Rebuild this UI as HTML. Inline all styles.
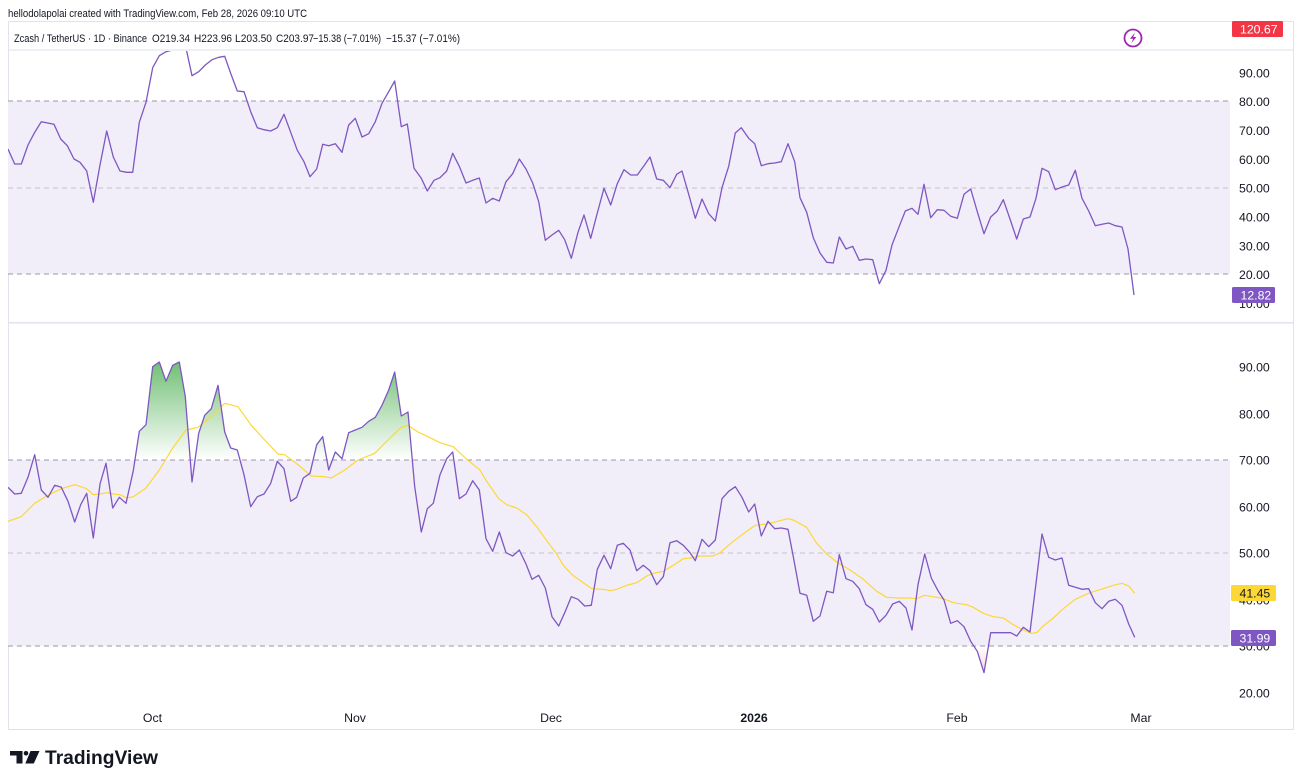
<!DOCTYPE html>
<html><head><meta charset="utf-8"><style>
html,body{margin:0;padding:0;background:#fff;width:1301px;height:784px;overflow:hidden}
svg{display:block}
text{font-family:"Liberation Sans",Arial,sans-serif}
</style></head><body>
<svg width="1301" height="784" viewBox="0 0 1301 784" xmlns="http://www.w3.org/2000/svg">
<defs>
<clipPath id="cTop"><rect x="8" y="51" width="1222" height="271"/></clipPath>
<clipPath id="cBot"><rect x="8" y="324" width="1222" height="381"/></clipPath>
<clipPath id="cAbove70"><rect x="8" y="324" width="1222" height="136"/></clipPath>
<clipPath id="cBelow30"><rect x="8" y="646" width="1222" height="59"/></clipPath>
<linearGradient id="gGreen" gradientUnits="userSpaceOnUse" x1="0" y1="355" x2="0" y2="460">
<stop offset="0" stop-color="#4caf50" stop-opacity="0.85"/>
<stop offset="1" stop-color="#4caf50" stop-opacity="0"/>
</linearGradient>
<linearGradient id="gRed" gradientUnits="userSpaceOnUse" x1="0" y1="646" x2="0" y2="690">
<stop offset="0" stop-color="#f23645" stop-opacity="0"/>
<stop offset="1" stop-color="#f23645" stop-opacity="0.35"/>
</linearGradient>
</defs>

<!-- top caption -->
<text x="8" y="17" font-size="11.2" fill="#131722" textLength="299" lengthAdjust="spacingAndGlyphs">hellodolapolai created with TradingView.com, Feb 28, 2026 09:10 UTC</text>

<!-- frame -->
<rect x="8.5" y="21.5" width="1285" height="708" fill="#fff" stroke="#e0e3eb" stroke-width="1"/>
<rect x="9" y="49" width="1284" height="2" fill="#eef0f5"/>
<rect x="9" y="322" width="1284" height="1.5" fill="#e0e3eb"/>

<!-- legend -->
<g font-size="10.8" fill="#131722">
<text x="14" y="42" textLength="133" lengthAdjust="spacingAndGlyphs">Zcash / TetherUS · 1D · Binance</text>
<text x="152" y="42" textLength="38" lengthAdjust="spacingAndGlyphs">O219.34</text>
<text x="194" y="42" textLength="38" lengthAdjust="spacingAndGlyphs">H223.96</text>
<text x="235" y="42" textLength="37" lengthAdjust="spacingAndGlyphs">L203.50</text>
<text x="276" y="42" textLength="38" lengthAdjust="spacingAndGlyphs">C203.97</text>
<text x="313" y="42" textLength="68" lengthAdjust="spacingAndGlyphs">−15.38 (−7.01%)</text>
<text x="386" y="42" textLength="74" lengthAdjust="spacingAndGlyphs">−15.37 (−7.01%)</text>
</g>

<!-- lightning icon -->
<circle cx="1133" cy="38" r="8.5" fill="none" stroke="#9c27b0" stroke-width="1.8"/>
<path d="M1135 32.5 L1130 38.8 L1133.2 38.8 L1131.2 43.5 L1136.3 37 L1133.2 37 Z" fill="#9c27b0"/>

<!-- TOP PANE -->
<rect x="8" y="101" width="1222" height="173" fill="#f1edf9"/>
<line x1="8" y1="101" x2="1230" y2="101" stroke="#9a97a5" stroke-width="1" stroke-dasharray="5 4"/>
<line x1="8" y1="274" x2="1230" y2="274" stroke="#9a97a5" stroke-width="1" stroke-dasharray="5 4"/>
<line x1="8" y1="188" x2="1230" y2="188" stroke="#c5c2cd" stroke-width="1" stroke-dasharray="5 4"/>
<g clip-path="url(#cTop)">
<polyline fill="none" stroke="#7e57c2" stroke-width="1.3" stroke-linejoin="round" points="8,149 14.7,164 21.3,164 28,145 34.7,132.3 41.3,121.7 54,124.3 60.7,139 67.3,145.7 74,159 80,162.3 86.7,171 93.3,202.3 100,165 106.7,131 113.3,157 120,171 126.7,172.3 132.7,172.3 139.3,122.3 146,102.3 152.7,67.7 159.3,55.7 166,51.7 172.7,50 179,48 186,48 192,75.7 198.7,71.7 205.3,65 212,59.7 218.7,57.3 224.7,56.3 231.3,75 237.3,91 244,91.7 250.7,111.7 257.3,127.7 264,129.7 270.7,131 277.3,127.7 284,114.3 290.7,132.3 297.3,150.3 304,161.7 310,176.7 316.7,169 322.7,144.3 328.7,145.7 335.3,143.7 342,152.3 348.7,125 355.3,118.3 362,137 368.7,133.7 375.3,121.7 382,103.3 388.7,91.7 394.7,81 401.3,126.7 407.3,124 414,168.3 421.3,178.3 427.3,191 434,180.3 440,177.7 446.7,171 452.7,153.3 459.3,166.3 466,183 472.7,180.3 479.3,178 486,203 492.7,198.3 499.3,201 506,181.7 512.7,173.7 519.3,159 526,169 532.7,183 538.7,201.7 545.3,240.3 552,235 558.7,230.3 564.7,239.7 571.3,258.3 578,232.3 584,215 590.7,238.3 597.3,213 604,188.3 610.7,205 617.3,183.7 624,169.7 630.7,175 637.3,175 644,165.7 650,157 656.7,179 663.3,180.3 670,187.7 676.7,174.3 682,171 688.7,194.3 695.3,218.3 702,199 708.7,213.7 715.3,221 722,187.7 728.7,166.3 735.3,133 741.3,127.7 748.7,138.3 754.7,143.7 761.3,165.7 768,163.7 774.7,163 781.3,161.7 788,143.7 794.7,161.7 800,197.7 806.7,212.3 813.3,237.7 820,253 826.7,262.3 833.3,263 839.3,237 846,249 852.7,246.3 859.3,260.3 866,259 872.7,259.7 879.3,283.7 886,270.3 892,245 898.7,227.7 905.3,211 912,208.3 918,214.3 924,184.3 930.7,217.7 937.3,209.7 944,210.3 950.7,216.3 957.3,218.3 964,194.3 970.7,189 977.3,211.7 984,233.7 990.7,217 997.3,211 1003.3,199.7 1010,219 1016.7,239 1023.3,219 1030,217 1036,198.3 1042,168.3 1048.7,171.7 1055.3,189.7 1062,187 1068.7,185 1075.3,170.3 1082,198.3 1088.7,211 1095.3,225.7 1102,224.3 1108.7,223 1115.3,225.7 1122,227 1128,249 1134,295"/>
</g>

<!-- top pane axis labels -->
<g font-size="12.3" fill="#131722">
<text x="1239" y="77.5">90.00</text>
<text x="1239" y="106">80.00</text>
<text x="1239" y="135">70.00</text>
<text x="1239" y="164">60.00</text>
<text x="1239" y="192.5">50.00</text>
<text x="1239" y="221.5">40.00</text>
<text x="1239" y="250.5">30.00</text>
<text x="1239" y="279">20.00</text>
<text x="1239" y="308">10.00</text>
</g>
<rect x="1232" y="21" width="51" height="16" rx="1.5" fill="#f23645"/>
<text x="1240" y="33.5" font-size="12.3" fill="#fff">120.67</text>
<rect x="1232" y="287" width="43" height="16" rx="1.5" fill="#7e57c2"/>
<text x="1240.5" y="299.5" font-size="12.3" fill="#fff">12.82</text>

<!-- BOTTOM PANE -->
<rect x="8" y="460" width="1222" height="186" fill="#f1edf9"/>
<line x1="8" y1="460" x2="1230" y2="460" stroke="#9a97a5" stroke-width="1" stroke-dasharray="5 4"/>
<line x1="8" y1="646" x2="1230" y2="646" stroke="#9a97a5" stroke-width="1" stroke-dasharray="5 4"/>
<line x1="8" y1="553" x2="1230" y2="553" stroke="#c5c2cd" stroke-width="1" stroke-dasharray="5 4"/>

<g clip-path="url(#cAbove70)">
<path fill="url(#gGreen)" d="M8,460 L8,487.3 14.7,494 21.3,493.3 28,477.3 34.7,454.7 41.3,490 48,497.3 54.7,485.3 61.3,487.3 68,501.3 74.7,522 80.7,504.7 86.7,493.3 93.3,538 100,484 106,463.3 112.7,508 119.3,497.3 126,503.3 133.3,470.7 139.3,431.3 146,424.7 152.7,366.7 159.3,362 166,381.3 172.7,365.3 179.3,362 185.3,396.7 192,482 198.7,433.3 204.7,415.3 211.3,408.7 218,385.3 224.7,432 230.7,448 237.3,450 244,474.7 250.7,506.7 257.3,496.7 264,494 270.7,483.3 277.3,461.3 284,468.7 290.7,501.3 296.7,497.3 303.3,478 310,473.3 316.7,444.7 322.7,436.7 328.7,470 335.3,452 342,458.7 348.7,432.7 355.3,430 362,427.3 368.7,421.3 375.3,417.3 382,405.3 388.7,390 394.7,372 401.3,416 408,412 414.7,486.7 421.3,532 440,474.7 446.7,458.7 452.7,452 459.3,498.7 470,500 470,460 Z"/>
</g>
<g clip-path="url(#cBelow30)">
<path fill="url(#gRed)" d="M964,646 L964,626.7 970.7,641.3 977.3,651.3 984,672.7 990.7,632.7 997,632.7 997,646 Z"/>
</g>

<g clip-path="url(#cBot)">
<polyline fill="none" stroke="#fdd835" stroke-width="1.2" stroke-linejoin="round" points="8,521.3 21.3,516.7 34.7,503.3 48,495.3 61.3,488.7 74.7,484.7 86.7,488.7 93.3,494.7 100,494 106.7,492.7 113.3,494 120,494.7 126.7,498 133.3,496.7 146,488 159.3,470 172.7,448 186,430 198,427.3 211.3,416.7 224.7,403.3 238,406.7 251.3,425.3 264.7,440 278,454 284.7,454.7 298,464.7 311.3,476 324.7,476.7 331.3,478 344.7,470 358,460 374.7,453.3 388,440 401.3,427.3 408,425.3 418,432 428,436.7 440,442.7 453.3,446.7 466.7,459.3 480,470 486.7,481.3 498.7,498.7 506.7,504.7 516.7,508 526.7,514.7 536.7,526.7 546.7,540.7 556.7,554 563.3,565.3 572,574.7 583.3,582.7 592,588.7 603.3,589.3 610.7,590.7 616.7,589.3 626.7,585.3 636.7,582.7 646.7,576 653.3,573.3 663.3,571.3 673.3,565.3 683.3,558.7 690,558 700,556 713.3,556 720,552.7 733.3,541.3 746.7,531.3 755.3,525.3 766.7,524 780,520.7 788,518.7 793.3,520 806.7,527.3 816.7,543.3 826.7,554 836.7,562 850,570 863.3,579.3 876.7,591.3 886.7,597.3 900,598 910,598 916.7,598.7 924.7,595.3 936.7,597.3 943.3,598.7 953.3,602.7 966.7,604.7 973.3,607.3 983.3,613.3 993.3,616.7 1003.3,618 1013.3,624.7 1023.3,630 1031.3,633.3 1036.7,632.7 1043.3,626 1053.3,618 1063.3,608.7 1075.3,599.3 1090,592.7 1103.3,588.7 1113.3,585.3 1122,583.3 1128.7,586 1134.7,593.3"/>
<polyline fill="none" stroke="#7e57c2" stroke-width="1.3" stroke-linejoin="round" points="8,487.3 14.7,494 21.3,493.3 28,477.3 34.7,454.7 41.3,490 48,497.3 54.7,485.3 61.3,487.3 68,501.3 74.7,522 80.7,504.7 86.7,493.3 93.3,538 100,484 106,463.3 112.7,508 119.3,497.3 126,503.3 133.3,470.7 139.3,431.3 146,424.7 152.7,366.7 159.3,362 166,381.3 172.7,365.3 179.3,362 185.3,396.7 192,482 198.7,433.3 204.7,415.3 211.3,408.7 218,385.3 224.7,432 230.7,448 237.3,450 244,474.7 250.7,506.7 257.3,496.7 264,494 270.7,483.3 277.3,461.3 284,468.7 290.7,501.3 296.7,497.3 303.3,478 310,473.3 316.7,444.7 322.7,436.7 328.7,470 335.3,452 342,458.7 348.7,432.7 355.3,430 362,427.3 368.7,421.3 375.3,417.3 382,405.3 388.7,390 394.7,372 401.3,416 408,412 414.7,486.7 421.3,532 427.3,508.7 433.3,503.3 440,474.7 446.7,458.7 452.7,452 459.3,498.7 466,494 472.7,480.7 479.3,490 486,538.7 492.7,551.3 499.3,532 506,552.7 512.7,556 519.3,550 526,564 532,579.3 538.7,575.3 545.3,588 552,616.7 558.7,626 565.3,611.3 571.3,596.7 578,599.3 584.7,606 591.3,605.3 597.3,569.3 604,555.3 610.7,568.7 617.3,545.3 623.3,543.3 630,550 636.7,570.7 643.3,565.3 650,570.7 656.7,584.7 663.3,576.7 670,542.7 676.7,540.7 683.3,545.3 690,552.7 695.3,560.7 702,539.3 708.7,546.7 715.3,540 722,498.7 728.7,491.3 735.3,486.7 742,497.3 748.7,512 754.7,504 761.3,536 768,521.3 774.7,528.7 781.3,528 788,529.3 793.3,556.7 800,593.3 806.7,595.3 813.3,621.3 820,616 826.7,591.3 833.3,592.7 839.3,554.7 846,578.7 852.7,581.3 859.3,588.7 866,604.7 872.7,609.3 879.3,622 886,615.3 892.7,604 899.3,601.3 906,608 912,630 918,584.7 924.7,554 931.3,578 938,590.7 944,600 950.7,623.3 957.3,620.7 964,626.7 970.7,641.3 977.3,651.3 984,672.7 990.7,632.7 997.3,632.7 1004,632.7 1010.7,632.7 1016.7,636 1023.3,627.3 1030,632 1036,583.3 1042,534 1048.7,557.3 1055.3,560 1062,558 1068.7,585.3 1075.3,587.3 1082,589.3 1088.7,588.7 1095.3,602.7 1102,608.7 1108.7,601.3 1115.3,599.3 1122,605.3 1128.7,624 1134.7,637.3"/>
</g>

<!-- bottom pane axis labels -->
<g font-size="12.3" fill="#131722">
<text x="1239" y="371.5">90.00</text>
<text x="1239" y="418.5">80.00</text>
<text x="1239" y="464.5">70.00</text>
<text x="1239" y="511.5">60.00</text>
<text x="1239" y="557.5">50.00</text>
<text x="1239" y="604.5">40.00</text>
<text x="1239" y="650.5">30.00</text>
<text x="1239" y="697.5">20.00</text>
</g>
<rect x="1231" y="585" width="45" height="16" rx="1.5" fill="#fdd835"/>
<text x="1239.5" y="597.5" font-size="12.3" fill="#131722">41.45</text>
<rect x="1231" y="630" width="45" height="16" rx="1.5" fill="#7e57c2"/>
<text x="1239.5" y="642.5" font-size="12.3" fill="#fff">31.99</text>

<!-- x axis -->
<g font-size="12.3" fill="#131722" text-anchor="middle">
<text x="152.5" y="722">Oct</text>
<text x="355" y="722">Nov</text>
<text x="551" y="722">Dec</text>
<text x="754" y="722" font-weight="bold">2026</text>
<text x="957" y="722">Feb</text>
<text x="1141" y="722">Mar</text>
</g>

<!-- TradingView logo -->
<g fill="#131722">
<path d="M10 751 H22.5 V763.5 H16.5 V755.5 H10 Z"/>
<circle cx="26" cy="753.3" r="2.3"/>
<path d="M30.5 751 H39.5 L33.8 763.5 H25.3 Z"/>
</g>
<text x="45" y="764" font-size="19" font-weight="bold" fill="#131722" textLength="113" lengthAdjust="spacingAndGlyphs">TradingView</text>
</svg>
</body></html>
